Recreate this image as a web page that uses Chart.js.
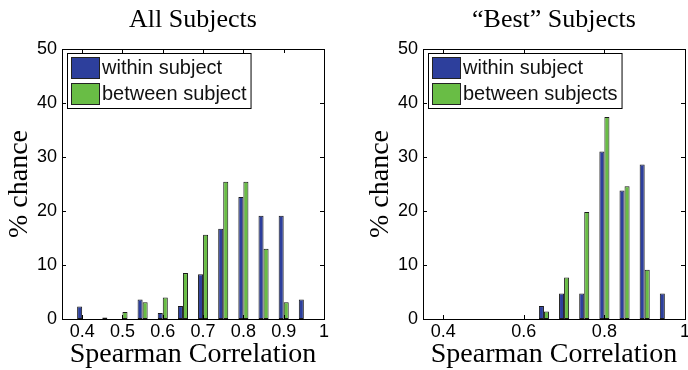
<!DOCTYPE html>
<html>
<head>
<meta charset="utf-8">
<script src="https://cdn.jsdelivr.net/npm/chart.js@4.4.1/dist/chart.umd.min.js"></script>
<style>
html, body { margin: 0; padding: 0; background: #fff; overflow: hidden; }
#wrap { position: relative; width: 688px; height: 370px; overflow: hidden; }
canvas { position: absolute; top: 0; }
</style>
</head>
<body>
<div id="wrap">
  <canvas id="chart-all" width="344" height="370" style="left:0"></canvas>
  <canvas id="chart-best" width="344" height="370" style="left:361px"></canvas>
</div>
<script>
// histogram bin centres (Spearman correlation)
const binCenters = [0.40, 0.45, 0.50, 0.55, 0.60, 0.65, 0.70, 0.75, 0.80, 0.85, 0.90, 0.95];

// % chance, all subjects
const allWithin  = [2.3, 0, 0, 3.6, 1.1, 2.4, 8.3, 16.7, 22.6, 19.1, 19.1, 3.6];
const allBetween = [0, 0.3, 1.3, 3.1, 4.0, 8.5, 15.6, 25.4, 25.4, 13.0, 3.1, 0];

// % chance, "best" subjects
const bestWithin  = [0, 0, 0, 0, 0, 2.4, 4.7, 4.7, 31.0, 23.8, 28.6, 4.7];
const bestBetween = [0, 0, 0, 0, 0, 1.4, 7.7, 19.8, 37.4, 24.6, 9.1, 0];

const allTicks  = [0.4, 0.5, 0.6, 0.7, 0.8, 0.9, 1];
const bestTicks = [0.4, 0.6, 0.8, 1];
const yTicks    = [0, 10, 20, 30, 40, 50];

const BLUE = '#2d3f9c';
const GREEN = '#69bd45';
const SERIF = "'Liberation Serif', 'Times New Roman', serif";
const SANS = "'Liberation Sans', Arial, sans-serif";

// box around the axes, inward ticks, and a legend drawn inside the plot
const frameAndLegend = {
    id: 'frameAndLegend',
    afterDraw(chart) {
        const ctx = chart.ctx;
        const a = chart.chartArea;
        const xs = chart.scales.x, ys = chart.scales.y;
        ctx.save();
        ctx.strokeStyle = '#000';
        ctx.lineWidth = 1;
        ctx.strokeRect(Math.round(a.left) + 0.5, Math.round(a.top) + 0.5,
                       Math.round(a.right - a.left), Math.round(a.bottom - a.top));
        ctx.beginPath();
        xs.ticks.forEach(t => {
            const px = Math.round(xs.getPixelForValue(t.value)) + 0.5;
            ctx.moveTo(px, a.bottom); ctx.lineTo(px, a.bottom - 4);
            ctx.moveTo(px, a.top); ctx.lineTo(px, a.top + 4);
        });
        ys.ticks.forEach(t => {
            const py = Math.round(ys.getPixelForValue(t.value)) + 0.5;
            ctx.moveTo(a.left, py); ctx.lineTo(a.left + 4, py);
            ctx.moveTo(a.right, py); ctx.lineTo(a.right - 4, py);
        });
        ctx.stroke();

        // legend
        ctx.font = '20px ' + SANS;
        const sets = chart.data.datasets;
        const textW = Math.max(...sets.map(d => ctx.measureText(d.label).width));
        const bx = Math.round(a.left) + 5, by = Math.round(a.top) + 4;
        const bw = 4 + 28 + 3 + textW + 4, bh = 55;
        ctx.fillStyle = '#fff';
        ctx.fillRect(bx, by, bw, bh);
        ctx.strokeRect(bx + 0.5, by + 0.5, bw, bh);
        ctx.textBaseline = 'middle';
        ctx.textAlign = 'left';
        sets.forEach((d, i) => {
            const sy = by + 4 + i * 26;
            ctx.fillStyle = d.backgroundColor;
            ctx.fillRect(bx + 4, sy, 28, 21);
            ctx.strokeStyle = '#222';
            ctx.strokeRect(bx + 4.5, sy + 0.5, 28, 21);
            ctx.fillStyle = '#111';
            ctx.fillText(d.label, bx + 4 + 28 + 3, sy + 11);
        });
        ctx.restore();
    }
};

// no outline on empty bins
const edgeWidth = c => (c.raw && c.raw.y > 0 ? 1 : 0);

function makeChart(id, title, within, between, betweenLabel, xTicks) {
    const ctx = document.getElementById(id).getContext('2d');
    return new Chart(ctx, {
        type: 'bar',
        data: {
            datasets: [{
                label: 'within subject',
                data: binCenters.map((x, i) => ({ x: x, y: within[i] })),
                backgroundColor: BLUE,
                borderColor: '#1a1a1a',
                borderWidth: edgeWidth,
                borderSkipped: false
            }, {
                label: betweenLabel,
                data: binCenters.map((x, i) => ({ x: x, y: between[i] })),
                backgroundColor: GREEN,
                borderColor: '#1a1a1a',
                borderWidth: edgeWidth,
                borderSkipped: false
            }]
        },
        options: {
            responsive: false,
            animation: false,
            devicePixelRatio: 1,
            categoryPercentage: 0.5,
            barPercentage: 1.0,
            layout: { padding: { left: 0, right: 20, top: 0, bottom: 0 } },
            scales: {
                x: {
                    type: 'linear',
                    offset: false,
                    min: 0.35,
                    max: 1.0,
                    afterBuildTicks: axis => { axis.ticks = xTicks.map(v => ({ value: v })); },
                    afterFit: axis => { axis.height = 51; },
                    grid: { display: false, drawTicks: false },
                    border: { display: false },
                    ticks: {
                        padding: 2,
                        color: '#000',
                        font: { family: SANS, size: 18 },
                        maxRotation: 0,
                        autoSkip: false,
                        callback: v => String(Number(v.toFixed(2)))
                    },
                    title: {
                        display: true,
                        text: 'Spearman Correlation',
                        color: '#000',
                        font: { family: SERIF, size: 28, lineHeight: 1 },
                        padding: { top: 0, bottom: 1 }
                    }
                },
                y: {
                    min: 0,
                    max: 50,
                    afterBuildTicks: axis => { axis.ticks = yTicks.map(v => ({ value: v })); },
                    afterFit: axis => { axis.width = 62; },
                    grid: { display: false, drawTicks: false },
                    border: { display: false },
                    ticks: {
                        padding: 5,
                        color: '#000',
                        font: { family: SANS, size: 18 }
                    },
                    title: {
                        display: true,
                        text: '% chance',
                        color: '#000',
                        font: { family: SERIF, size: 28, lineHeight: 1 },
                        padding: { top: 6, bottom: 0 }
                    }
                }
            },
            plugins: {
                legend: { display: false },
                tooltip: { enabled: false },
                title: {
                    display: true,
                    text: title,
                    fullSize: false,
                    color: '#000',
                    font: { family: SERIF, size: 26, weight: 'normal', lineHeight: 1 },
                    padding: { top: 7, bottom: 16 }
                }
            }
        },
        plugins: [frameAndLegend]
    });
}

makeChart('chart-all', 'All Subjects', allWithin, allBetween, 'between subject', allTicks);
makeChart('chart-best', '\u201cBest\u201d Subjects', bestWithin, bestBetween, 'between subjects', bestTicks);
</script>
</body>
</html>
